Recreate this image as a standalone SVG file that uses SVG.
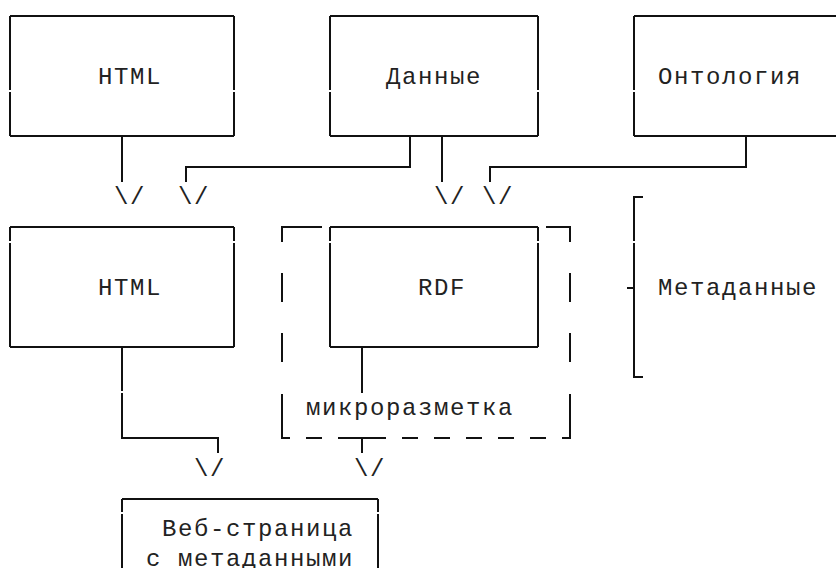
<svg xmlns="http://www.w3.org/2000/svg" width="836" height="568" viewBox="0 0 836 568">
<style>
  .ln { fill: none; stroke: #111; stroke-width: 2; }
  .t { font-family: "Liberation Mono", "DejaVu Sans Mono", monospace; font-size: 24px; letter-spacing: 1.6px; fill: #222; }
</style>
<rect width="836" height="568" fill="#fff"/>
<g id="node-html-source">
  <path class="ln" d="M10,16 H234 M10,16 V90 M10,92 V136 M234,16 V90 M234,92 V136 M10,136 H234"/>
  <text class="t" x="98" y="83.6">HTML</text>
</g>
<g id="node-data">
  <path class="ln" d="M330,16 H538 M330,16 V90 M330,92 V136 M538,16 V90 M538,92 V136 M330,136 H538"/>
  <text class="t" x="386" y="83.6">Данные</text>
</g>
<g id="node-ontology">
  <path class="ln" d="M634,16 H846 M634,16 V90 M634,92 V136 M634,136 H846"/>
  <text class="t" x="658" y="83.6">Онтология</text>
</g>
<g id="node-html">
  <path class="ln" d="M10,227 H234 M10,227 V241 M10,243 V347 M234,227 V241 M234,243 V347 M10,347 H234"/>
  <text class="t" x="98" y="294.6">HTML</text>
</g>
<g id="node-microdata">
  <path class="ln" d="M290,227 H282 V242 M282,273 V302 M282,333 V362 M282,394 V438 H290 M282,227 H322 M546,227 H570 V242 M570,273 V302 M570,333 V362 M570,394 V438 H562 M306,438 H322 M338,438 H386 M402,438 H418 M434,438 H450 M466,438 H482 M498,438 H514 M530,438 H546"/>
  <text class="t" x="306" y="415.2">микроразметка</text>
</g>
<g id="node-rdf">
  <path class="ln" d="M330,227 H538 M330,227 V241 M330,243 V347 M538,227 V241 M538,243 V347 M330,347 H538"/>
  <text class="t" x="418" y="294.6">RDF</text>
</g>
<g id="node-metadata">
  <path class="ln" d="M643,197 H634 V241 M634,243 V377 H643 M627,288 H634"/>
  <text class="t" x="658" y="294.6">Метаданные</text>
</g>
<g id="node-webpage">
  <path class="ln" d="M122,499 H378 M122,499 V512 M122,514 V578 M378,499 V512 M378,514 V578"/>
  <text class="t" x="162" y="535.8">Веб-страница</text>
  <text class="t" x="146" y="566">с метаданными</text>
</g>
<g id="connectors">
  <path class="ln" d="M122,136 V182"/>
  <path class="ln" d="M410,136 V167 H186 V182"/>
  <path class="ln" d="M442,136 V182"/>
  <path class="ln" d="M746,136 V167 H490 V182"/>
  <path class="ln" d="M362,347 V393"/>
  <path class="ln" d="M122,347 V391 M122,393 V438 H218 V453"/>
  <path class="ln" d="M362,438 V453"/>
  <text class="t" x="114" y="204">\/</text>
  <text class="t" x="178" y="204">\/</text>
  <text class="t" x="434" y="204">\/</text>
  <text class="t" x="482" y="204">\/</text>
  <text class="t" x="194" y="475.5">\/</text>
  <text class="t" x="354" y="475.5">\/</text>
</g>
</svg>
